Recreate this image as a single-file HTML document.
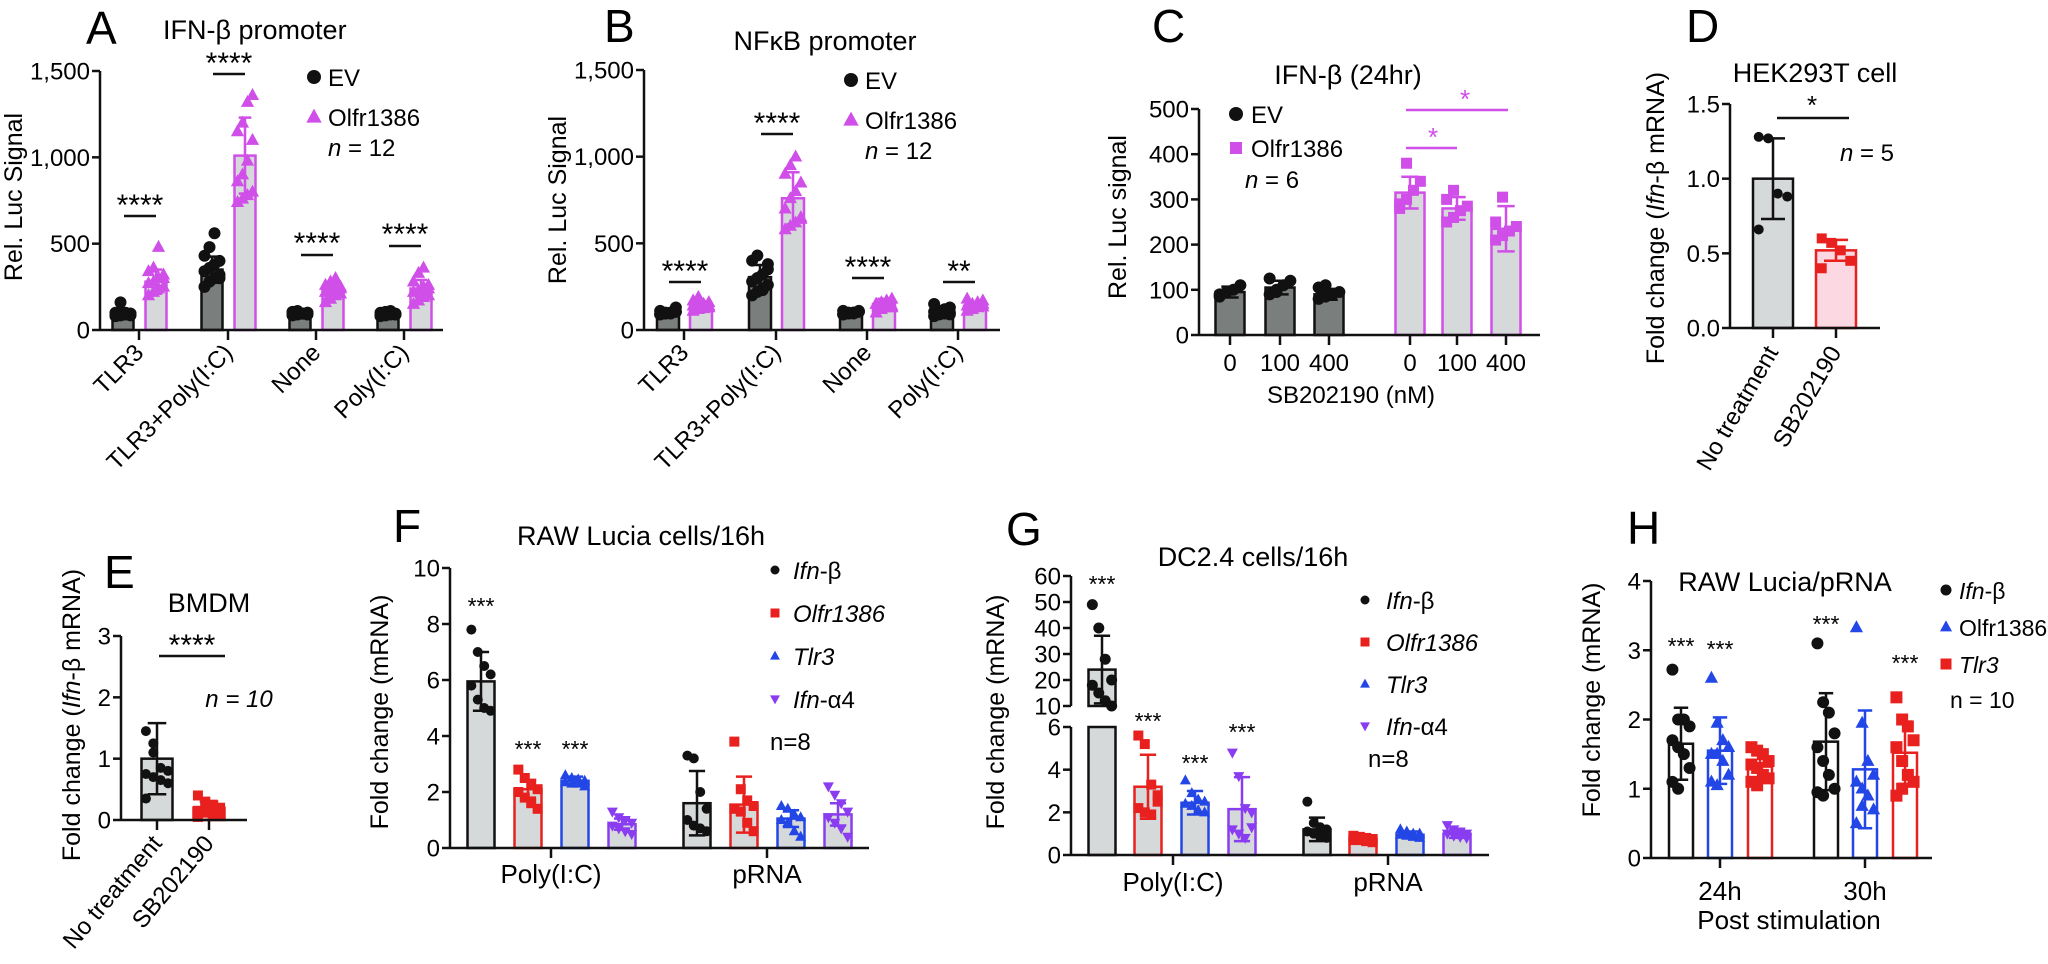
<!DOCTYPE html>
<html><head><meta charset="utf-8"><style>
html,body{margin:0;padding:0;background:#fff;}
svg{display:block;font-family:"Liberation Sans",Arial,sans-serif;}
</style></head><body>
<svg id="fig" xmlns="http://www.w3.org/2000/svg" width="2048" height="964" viewBox="0 0 2048 964"></svg>
<script>
// ---------- DATA ----------
const catsAB = ['TLR3','TLR3+Poly(I:C)','None','Poly(I:C)'];
const ticksAB = [0,500,1000,1500];
const tickLabelsAB = ['0','500','1,000','1,500'];
const evMeanA = [95,350,95,90];
const evSdA = [20,75,10,12];
const olMeanA = [280,1010,230,240];
const olSdA = [70,220,40,50];
const evPtsA = [[80,85,90,95,100,105,90,85,95,160,100,95],[250,280,300,320,340,360,380,400,430,480,560,300],[85,90,95,100,105,110,95,90,100,105,95,100],[80,85,90,95,100,105,110,90,85,95,100,90]];
const olPtsA = [[200,220,240,250,270,280,300,320,340,360,480,300],[740,760,780,800,860,900,980,1100,1150,1200,1320,1360],[160,180,200,210,220,230,240,250,260,280,300,240],[150,170,190,200,220,230,250,260,280,330,360,240]];
const evMeanB = [100,305,100,100];
const evSdB = [12,70,10,20];
const olMeanB = [140,760,150,140];
const olSdB = [25,150,30,22];
const evPtsB = [[90,95,100,105,110,95,100,130,90,100,95,105],[200,220,240,260,280,300,320,380,400,430,230,350],[90,95,100,105,110,95,100,105,90,100,95,110],[80,90,95,100,105,110,120,130,150,95,100,90]];
const olPtsB = [[110,120,125,130,140,145,150,160,170,190,130,140],[580,600,620,650,700,760,800,850,900,950,1000,640],[100,120,130,140,150,160,170,180,150,140,160,130],[110,120,130,135,140,150,160,170,180,130,140,150]];
const catsC = ['0','100','400'];
const ticksC = [0,100,200,300,400,500];
const evMeanC = [95,105,90];
const evSdC = [12,15,12];
const olMeanC = [315,280,235];
const olSdC = [35,25,50];
const evPtsC = [[85,95,100,110,90,95],[90,100,110,120,125,95],[80,85,90,95,105,110]];
const olPtsC = [[280,300,320,340,290,380],[250,260,275,285,300,320],[210,220,230,240,250,305]];
const catsDE = ['No treatment','SB202190'];
const ticksD = [0,0.5,1.0,1.5];
const tickLabelsD = ['0.0','0.5','1.0','1.5'];
const meanD = [1.0,0.52];
const sdD = [0.27,0.07];
const ptsD = [[1.28,1.27,0.9,0.88,0.66],[0.6,0.57,0.52,0.45,0.4]];
const ticksE = [0,1,2,3];
const meanE = [1.0,0.2];
const sdE = [0.58,0.1];
const ptsE = [[1.45,1.25,0.85,0.8,0.75,0.7,0.65,0.6,0.35,1.1],[0.4,0.3,0.25,0.2,0.15,0.12,0.1,0.08,0.05,0.2]];
const groupsFG = ['Poly(I:C)','pRNA'];
const seriesFG = ['Ifn-β','Olfr1386','Tlr3','Ifn-α4'];
const ticksF = [0,2,4,6,8,10];
const meanF = [[5.95,2.1,2.4,0.85],[1.6,1.55,1.05,1.2]];
const sdF = [[1.05,0.3,0.15,0.2],[1.15,1.0,0.3,0.4]];
const ptsF = [[[7.8,7.0,6.5,6.2,5.8,5.3,5.0,4.9],[2.8,2.5,2.3,2.1,2.0,1.8,1.6,1.4],[2.6,2.5,2.45,2.4,2.35,2.3,2.3,2.2],[1.3,1.1,1.0,0.9,0.8,0.7,0.6,0.5]],[[3.3,3.2,2.0,1.4,1.0,0.8,0.7,0.6],[3.8,2.1,1.7,1.5,1.4,1.3,0.9,0.6],[1.5,1.4,1.2,1.1,1.0,0.9,0.6,0.4],[2.2,1.9,1.6,1.3,1.1,0.9,0.7,0.4]]];
const ticksGlow = [0,2,4,6];
const ticksGhigh = [10,20,30,40,50,60];
const meanG = [[24,3.2,2.45,2.15],[1.2,0.75,0.95,1.0]];
const sdG = [[13,1.5,0.55,1.5],[0.55,0.12,0.15,0.2]];
const ptsG = [[[49,40,28,20,18,15,12,10],[5.6,5.2,3.3,2.8,2.2,2.0,1.9,2.5],[3.5,2.9,2.6,2.5,2.4,2.3,2.1,2.0],[4.8,3.7,2.2,1.3,1.2,1.0,0.8,2.0]],[[2.5,1.5,1.3,1.2,1.1,1.0,0.9,0.8],[0.9,0.85,0.8,0.75,0.7,0.7,0.65,0.6],[1.2,1.1,1.0,1.0,0.95,0.9,0.85,0.8],[1.4,1.2,1.1,1.0,1.0,0.9,0.85,0.8]]];
const groupsH = ['24h','30h'];
const seriesH = ['Ifn-β','Olfr1386','Tlr3'];
const ticksH = [0,1,2,3,4];
const meanH = [[1.65,1.55,1.32],[1.68,1.28,1.52]];
const sdH = [[0.52,0.48,0.2],[0.7,0.85,0.45]];
const ptsH = [[[2.72,2.0,2.0,1.9,1.7,1.6,1.5,1.3,1.1,1.0],[2.6,1.95,1.7,1.6,1.5,1.5,1.4,1.2,1.1,1.05],[1.6,1.55,1.5,1.4,1.35,1.3,1.2,1.15,1.1,1.05]],[[3.1,2.25,2.1,1.8,1.6,1.4,1.2,1.0,0.95,0.9],[3.33,1.95,1.4,1.2,1.1,1.0,0.9,0.7,0.5,0.75],[2.32,2.0,1.9,1.7,1.6,1.4,1.2,1.1,0.9,1.0]]];

// ---------- HELPERS ----------
const NS='http://www.w3.org/2000/svg';
const fig=document.getElementById('fig');
const MAG='#d04fe8', DARK='#7a7f7e', LIGHT='#d6d9d9', RED='#e8211e', BLUE='#2346e6', PURP='#8a3cf0';
const FT=27, FY=25, FK=24, FL=24, FX=24, FP=46;
function mk(tag,parent){const e=document.createElementNS(NS,tag);(parent||fig).appendChild(e);return e;}
function txt(name,x,y,s,size,opt){
  opt=opt||{};
  const t=mk('text',opt.parent);
  
  
  t.setAttribute('x',x);t.setAttribute('y',y);t.setAttribute('font-size',size);
  t.setAttribute('text-anchor',opt.anchor||'start');
  if(opt.italic)t.setAttribute('font-style','italic');
  if(opt.fill)t.setAttribute('fill',opt.fill);
  if(opt.rot!==undefined)t.setAttribute('transform','rotate('+opt.rot+' '+x+' '+y+')');
  if(opt.html)t.innerHTML=s;else t.textContent=s;
  return t;
}
function line(name,x1,y1,x2,y2,col,w){
  const l=mk('line');
  
  
  l.setAttribute('x1',x1);l.setAttribute('y1',y1);l.setAttribute('x2',x2);l.setAttribute('y2',y2);
  l.setAttribute('stroke',col||'#111');l.setAttribute('stroke-width',w||2.5);
  return l;
}
function marker(name,type,cx,cy,s,col){
  let e;
  if(type==='circle'){e=mk('circle');e.setAttribute('cx',cx);e.setAttribute('cy',cy);e.setAttribute('r',s/2);}
  else if(type==='square'){e=mk('rect');e.setAttribute('x',cx-s/2);e.setAttribute('y',cy-s/2);e.setAttribute('width',s);e.setAttribute('height',s);}
  else if(type==='tri'){e=mk('polygon');e.setAttribute('points',(cx)+','+(cy-s*0.6)+' '+(cx-s*0.55)+','+(cy+s*0.4)+' '+(cx+s*0.55)+','+(cy+s*0.4));}
  else {e=mk('polygon');e.setAttribute('points',(cx)+','+(cy+s*0.6)+' '+(cx-s*0.55)+','+(cy-s*0.4)+' '+(cx+s*0.55)+','+(cy-s*0.4));}
  
  
  e.setAttribute('fill',col);
  return e;
}
function yAxis(p,ticks,labels,fs){
  line(p.id+'-y-axis',p.x0,p.y0,p.x0,p.sc(ticks[ticks.length-1]));
  ticks.forEach((v,i)=>{
    const y=p.sc(v);
    line(p.id+'-y-tick',p.x0-8,y,p.x0,y);
    txt(p.id+'-y-tick-label',p.x0-10,y+8.5,labels?labels[i]:String(v),fs||FK,{anchor:'end'});
  });
}
function xAxis(p,catX){
  line(p.id+'-x-axis',p.x0,p.y0,p.xEnd,p.y0);
  catX.forEach(x=>line(p.id+'-x-tick',x,p.y0,x,p.y0+10));
}
function bar(p,name,cx,w,mean,sd,fill,stroke,pts,mtype,mcol,ms){
  const r=mk('rect');
  
  
  const yt=p.sc(mean);
  r.setAttribute('x',cx-w/2);r.setAttribute('y',yt);r.setAttribute('width',w);r.setAttribute('height',p.y0-yt);
  r.setAttribute('fill',fill);r.setAttribute('stroke',stroke);r.setAttribute('stroke-width',2.5);
  pts.forEach((v,i)=>{
    const off=((i%4)-1.5)*(w/4.2);
    marker(name+'-point',mtype,cx+off,p.sc(v),ms,mcol);
  });
  const hi=p.sc(mean+sd), lo=p.sc(Math.max(0,mean-sd));
  line(name+'-error-bar',cx,hi,cx,lo,stroke,2.5);
  line(name+'-error-cap',cx-w*0.3,hi,cx+w*0.3,hi,stroke,2.5);
  line(name+'-error-cap',cx-w*0.3,lo,cx+w*0.3,lo,stroke,2.5);
}
function linScale(y0,yTop,vmax){return v=>y0-v/vmax*(y0-yTop);}
function gene(s){const k=s.indexOf('-');if(s.indexOf('Ifn')===0&&k>0)return '<tspan font-style="italic">'+s.slice(0,k)+'</tspan>'+s.slice(k);return '<tspan font-style="italic">'+s+'</tspan>';}

// ---------- PANEL A ----------
(function(){
  const p={id:'panel-a',x0:100,y0:330,xEnd:443,sc:linScale(330,71,1500)};
  const cx=[139,228,316,404];
  txt('panel-a-letter',86,44,'A',FP);
  txt('panel-a-title',163,39,'IFN-β promoter',FT);
  txt('panel-a-y-title',22,197,'Rel. Luc Signal',FY,{anchor:'middle',rot:-90});
  yAxis(p,ticksAB,tickLabelsAB);
  cx.forEach((x,i)=>{
    bar(p,'panel-a-bar-ev-'+i,x-16,21,evMeanA[i],evSdA[i],DARK,'#111',evPtsA[i],'circle','#111',12);
    bar(p,'panel-a-bar-olfr-'+i,x+17,21,olMeanA[i],olSdA[i],LIGHT,MAG,olPtsA[i],'tri',MAG,12);
  });
  xAxis(p,cx);
  cx.forEach((x,i)=>txt('panel-a-x-label',x+6,p.y0+24,catsAB[i],FX,{anchor:'end',rot:-45}));
  const sig=[[216,205],[74,63],[255,243],[246,234]];
  cx.forEach((x,i)=>{line('panel-a-sig-line',x-15,sig[i][0],x+17,sig[i][0]);txt('panel-a-sig-stars',x+1,sig[i][1]+10,'****',30,{anchor:'middle'});});
  marker('panel-a-legend-ev','circle',314,77,14,'#111');txt('panel-a-legend-ev-label',328,86,'EV',FL);
  marker('panel-a-legend-olfr','tri',314,117,14,MAG);txt('panel-a-legend-olfr-label',328,126,'Olfr1386',FL);
  txt('panel-a-n',328,156,'<tspan font-style="italic">n</tspan> = 12',FL,{html:true});
})();

// ---------- PANEL B ----------
(function(){
  const p={id:'panel-b',x0:644,y0:330,xEnd:1000,sc:linScale(330,70,1500)};
  const cx=[684,776,867,958];
  txt('panel-b-letter',604,42,'B',FP);
  txt('panel-b-title',825,50,'NFκB promoter',FT,{anchor:'middle'});
  txt('panel-b-y-title',566,200,'Rel. Luc Signal',FY,{anchor:'middle',rot:-90});
  yAxis(p,ticksAB,tickLabelsAB);
  cx.forEach((x,i)=>{
    bar(p,'panel-b-bar-ev-'+i,x-16,22,evMeanB[i],evSdB[i],DARK,'#111',evPtsB[i],'circle','#111',12);
    bar(p,'panel-b-bar-olfr-'+i,x+17,22,olMeanB[i],olSdB[i],LIGHT,MAG,olPtsB[i],'tri',MAG,12);
  });
  xAxis(p,cx);
  cx.forEach((x,i)=>txt('panel-b-x-label',x+6,p.y0+24,catsAB[i],FX,{anchor:'end',rot:-45}));
  const sig=[[282,'****'],[134,'****'],[278,'****'],[282,'**']];
  cx.forEach((x,i)=>{line('panel-b-sig-line',x-15,sig[i][0],x+17,sig[i][0]);txt('panel-b-sig-stars',x+1,sig[i][0]-1,sig[i][1],30,{anchor:'middle'});});
  marker('panel-b-legend-ev','circle',851,80,14,'#111');txt('panel-b-legend-ev-label',865,89,'EV',FL);
  marker('panel-b-legend-olfr','tri',851,120,14,MAG);txt('panel-b-legend-olfr-label',865,129,'Olfr1386',FL);
  txt('panel-b-n',865,159,'<tspan font-style="italic">n</tspan> = 12',FL,{html:true});
})();

// ---------- PANEL C ----------
(function(){
  const p={id:'panel-c',x0:1199,y0:335,xEnd:1540,sc:linScale(335,109,500)};
  const cxE=[1230,1280,1329], cxO=[1410,1457,1506];
  txt('panel-c-letter',1152,42,'C',FP);
  txt('panel-c-title',1348,84,'IFN-β (24hr)',FT,{anchor:'middle'});
  txt('panel-c-y-title',1126,217,'Rel. Luc signal',FY,{anchor:'middle',rot:-90});
  yAxis(p,ticksC);
  cxE.forEach((x,i)=>bar(p,'panel-c-bar-ev-'+i,x,29,evMeanC[i],evSdC[i],DARK,'#111',evPtsC[i],'circle','#111',12));
  cxO.forEach((x,i)=>bar(p,'panel-c-bar-olfr-'+i,x,29,olMeanC[i],olSdC[i],LIGHT,MAG,olPtsC[i],'square',MAG,11));
  xAxis(p,cxE.concat(cxO));
  cxE.concat(cxO).forEach((x,i)=>txt('panel-c-x-label',x,371,catsC[i%3],FX,{anchor:'middle'}));
  txt('panel-c-x-title',1351,403,'SB202190 (nM)',FX,{anchor:'middle'});
  line('panel-c-sig-line-1',1406,110,1508,110,MAG);txt('panel-c-sig-star-1',1465,108,'*',26,{anchor:'middle',fill:MAG});
  line('panel-c-sig-line-2',1406,148,1457,148,MAG);txt('panel-c-sig-star-2',1433,146,'*',26,{anchor:'middle',fill:MAG});
  marker('panel-c-legend-ev','circle',1236,114,14,'#111');txt('panel-c-legend-ev-label',1251,123,'EV',FL);
  marker('panel-c-legend-olfr','square',1236,148,12,MAG);txt('panel-c-legend-olfr-label',1251,157,'Olfr1386',FL);
  txt('panel-c-n',1245,188,'<tspan font-style="italic">n</tspan> = 6',FL,{html:true});
})();

// ---------- PANEL D ----------
(function(){
  const p={id:'panel-d',x0:1730,y0:328,xEnd:1880,sc:linScale(328,104,1.5)};
  const cx=[1773,1836];
  txt('panel-d-letter',1686,42,'D',FP);
  txt('panel-d-title',1815,82,'HEK293T cell',FT,{anchor:'middle'});
  txt('panel-d-y-title',1664,218,'Fold change (<tspan font-style="italic">Ifn</tspan>-β mRNA)',FY,{anchor:'middle',rot:-90,html:true});
  yAxis(p,ticksD,tickLabelsD);
  bar(p,'panel-d-bar-no-treatment',cx[0],40,meanD[0],sdD[0],LIGHT,'#111',ptsD[0],'circle','#111',10);
  bar(p,'panel-d-bar-sb202190',cx[1],40,meanD[1],sdD[1],'#fcd9e2',RED,ptsD[1],'square',RED,10);
  xAxis(p,cx);
  cx.forEach((x,i)=>txt('panel-d-x-label',x+6,p.y0+24,catsDE[i],FX,{anchor:'end',rot:-60}));
  line('panel-d-sig-line',1777,118,1849,118);txt('panel-d-sig-star',1812,114,'*',26,{anchor:'middle'});
  txt('panel-d-n',1867,161,'<tspan font-style="italic">n</tspan> = 5',FL,{anchor:'middle',html:true});
})();

// ---------- PANEL E ----------
(function(){
  const p={id:'panel-e',x0:121,y0:820,xEnd:247,sc:linScale(820,636,3)};
  const cx=[157,209];
  txt('panel-e-letter',104,588,'E',FP);
  txt('panel-e-title',209,612,'BMDM',FT,{anchor:'middle'});
  txt('panel-e-y-title',80,715,'Fold change (<tspan font-style="italic">Ifn</tspan>-β mRNA)',FY,{anchor:'middle',rot:-90,html:true});
  yAxis(p,ticksE);
  bar(p,'panel-e-bar-no-treatment',cx[0],31,meanE[0],sdE[0],LIGHT,'#111',ptsE[0],'circle','#111',10);
  bar(p,'panel-e-bar-sb202190',cx[1],31,meanE[1],sdE[1],'#fcd9e2',RED,ptsE[1],'square',RED,10);
  xAxis(p,cx);
  cx.forEach((x,i)=>txt('panel-e-x-label',x+6,p.y0+24,catsDE[i],FX,{anchor:'end',rot:-50}));
  line('panel-e-sig-line',159,656,225,656);txt('panel-e-sig-stars',192,655,'****',30,{anchor:'middle'});
  txt('panel-e-n',239,707,'n = 10',FL,{anchor:'middle',italic:true});
})();

// ---------- PANEL F ----------
const colsFG=['#111',RED,BLUE,PURP], marksFG=['circle','square','tri','inv'];
(function(){
  const p={id:'panel-f',x0:450,y0:848,xEnd:869,sc:linScale(848,568,10)};
  const gx=[551,767], offs=[-70,-23,24,71];
  txt('panel-f-letter',393,542,'F',FP);
  txt('panel-f-title',641,545,'RAW Lucia cells/16h',FT,{anchor:'middle'});
  txt('panel-f-y-title',388,712,'Fold change (mRNA)',FY,{anchor:'middle',rot:-90});
  yAxis(p,ticksF);
  gx.forEach((g,gi)=>seriesFG.forEach((s,si)=>bar(p,'panel-f-bar-'+gi+'-'+si,g+offs[si],27,meanF[gi][si],sdF[gi][si],LIGHT,colsFG[si],ptsF[gi][si],marksFG[si],colsFG[si],10)));
  xAxis(p,gx);
  gx.forEach((g,i)=>txt('panel-f-x-label',g,883,groupsFG[i],26,{anchor:'middle'}));
  [[481,614],[528,757],[575,757]].forEach(a=>txt('panel-f-sig-stars',a[0],a[1],'***',23,{anchor:'middle'}));
  seriesFG.forEach((s,i)=>{const y=570+i*43;marker('panel-f-legend-marker',marksFG[i],775,y,9,colsFG[i]);
    txt('panel-f-legend-label',793,y+9,gene(s),FL,{html:true});});
  txt('panel-f-n',770,750,'n=8',FL);
})();

// ---------- PANEL G (broken axis) ----------
(function(){
  const x0=1071,y0=855;
  const sc=v=> v<=6 ? y0-v/6*(855-727) : (v>=10 ? 706-(v-10)/50*(706-576) : 727);
  const p={id:'panel-g',x0:x0,y0:y0,xEnd:1489,sc:sc};
  const gx=[1173,1388], offs=[-71,-25,22,69];
  txt('panel-g-letter',1006,545,'G',FP);
  txt('panel-g-title',1253,566,'DC2.4 cells/16h',FT,{anchor:'middle'});
  txt('panel-g-y-title',1004,712,'Fold change (mRNA)',FY,{anchor:'middle',rot:-90});
  line('panel-g-y-axis-low',x0,855,x0,727);line('panel-g-y-axis-high',x0,706,x0,576);
  ticksGlow.forEach(v=>{line('panel-g-y-tick',x0-8,sc(v),x0,sc(v));txt('panel-g-y-tick-label',x0-10,sc(v)+8.5,String(v),FK,{anchor:'end'});});
  ticksGhigh.forEach(v=>{line('panel-g-y-tick',x0-8,sc(v),x0,sc(v));txt('panel-g-y-tick-label',x0-10,sc(v)+8.5,String(v),FK,{anchor:'end'});});
  gx.forEach((g,gi)=>seriesFG.forEach((s,si)=>{
    const name='panel-g-bar-'+gi+'-'+si;
    if(meanG[gi][si]>6){
      const cx=g+offs[si],w=27;
      const r1=mk('rect');
      
      
      r1.setAttribute('x',cx-w/2);r1.setAttribute('y',727);r1.setAttribute('width',w);r1.setAttribute('height',y0-727);
      r1.setAttribute('fill',LIGHT);r1.setAttribute('stroke','#111');r1.setAttribute('stroke-width',2.5);
      const pu={sc:sc,y0:706};
      bar(pu,name,cx,w,meanG[gi][si],sdG[gi][si],LIGHT,'#111',ptsG[gi][si],marksFG[si],colsFG[si],11);
    } else bar(p,name,g+offs[si],27,meanG[gi][si],sdG[gi][si],LIGHT,colsFG[si],ptsG[gi][si],marksFG[si],colsFG[si],10);
  }));
  xAxis(p,gx);
  gx.forEach((g,i)=>txt('panel-g-x-label',g,891,groupsFG[i],26,{anchor:'middle'}));
  [[1102,592],[1148,729],[1195,771],[1242,740]].forEach(a=>txt('panel-g-sig-stars',a[0],a[1],'***',23,{anchor:'middle'}));
  seriesFG.forEach((s,i)=>{const y=600+i*42;marker('panel-g-legend-marker',marksFG[i],1365,y,9,colsFG[i]);
    txt('panel-g-legend-label',1386,y+9,gene(s),FL,{html:true});});
  txt('panel-g-n',1368,767,'n=8',FL);
})();

// ---------- PANEL H ----------
(function(){
  const p={id:'panel-h',x0:1651,y0:858,xEnd:1932,sc:linScale(858,581,4)};
  const gx=[1720,1865], offs=[-39,0,40];
  const cols=['#111',BLUE,RED], mks=['circle','tri','square'];
  txt('panel-h-letter',1627,544,'H',FP);
  txt('panel-h-title',1785,591,'RAW Lucia/pRNA',FT,{anchor:'middle'});
  txt('panel-h-y-title',1600,700,'Fold change (mRNA)',FY,{anchor:'middle',rot:-90});
  yAxis(p,ticksH);
  gx.forEach((g,gi)=>seriesH.forEach((s,si)=>bar(p,'panel-h-bar-'+gi+'-'+si,g+offs[si],24,meanH[gi][si],sdH[gi][si],'#fff',cols[si],ptsH[gi][si],mks[si],cols[si],12)));
  xAxis(p,gx);
  gx.forEach((g,i)=>txt('panel-h-x-label',g,900,groupsH[i],26,{anchor:'middle'}));
  txt('panel-h-x-title',1789,929,'Post stimulation',26,{anchor:'middle'});
  [[1681,654],[1720,657],[1826,632],[1905,671]].forEach(a=>txt('panel-h-sig-stars',a[0],a[1],'***',23,{anchor:'middle'}));
  seriesH.forEach((s,i)=>{const y=590+i*37;marker('panel-h-legend-marker',mks[i],1946,y,11,cols[i]);
    txt('panel-h-legend-label',1959,y+9,i===1?s:gene(s),23,{html:true});});
  txt('panel-h-n',1950,708,'n = 10',23);
})();
</script>
</body></html>
